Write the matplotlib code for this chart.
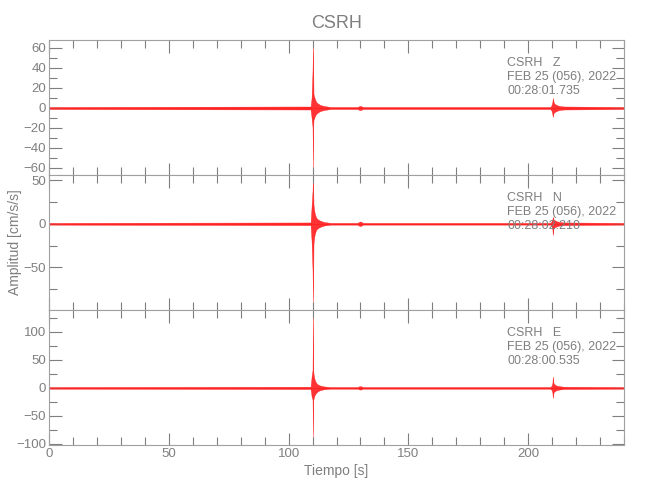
import matplotlib
matplotlib.use("Agg")
import matplotlib.pyplot as plt
from matplotlib.ticker import MultipleLocator

# envelope keypoints (seconds)
t_keys = [0, 109.2, 109.6, 110.0, 110.2, 110.3, 110.4, 110.7, 111.0, 111.5, 112.2,
          113.2, 114.8, 117.5, 128.8, 129.6, 130.2, 131, 209.3, 209.8, 210.1, 210.3,
          210.6, 211.1, 211.8, 213, 215, 240]

z_hi = [1, 1.5, 10, 38, 65, 38, 14, 11, 9, 6, 4.5, 3, 2, 1, 1, 2, 2, 1, 1, 3,
        6, 10, 6, 4, 3, 2, 1.5, 1]
z_lo = [-1, -1.5, -10, -19, -62, -19, -12, -10, -8, -6, -4.5, -3, -2, -1, -1, -2,
        -2, -1, -1, -3, -6, -9, -5, -4, -3, -2, -1.5, -1]

n_hi = [1, 1.5, 20, 38, 56, 38, 22, 15, 11, 7, 5, 3.5, 2, 1, 1, 2.5, 2.5, 1, 1, 3,
        5, 8, 5, 4, 3, 2, 1.5, 1]
n_lo = [-1, -1.5, -20, -54, -93, -54, -23, -15, -11, -7, -5, -3.5, -2, -1, -1, -2.5,
        -2.5, -1, -1, -3, -6, -13, -5, -4, -3, -2, -1.5, -1]

e_hi = [1.5, 2, 20, 32, 145, 32, 25, 18, 13, 9, 6, 4, 2.5, 1.5, 1.5, 3, 3, 1.5, 1.5,
        4, 8, 20, 8, 6, 4, 3, 2, 1.5]
e_lo = [-1.5, -2, -15, -21, -93, -21, -20, -15, -12, -9, -6, -4, -2.5, -1.5, -1.5,
        -3, -3, -1.5, -1.5, -4, -8, -18, -8, -6, -4, -3, -2, -1.5]

components = ["Z", "N", "E"]
start_times = ["00:28:01.735", "00:28:02.210", "00:28:00.535"]
ylims = [(-67, 68), (-99, 56), (-102, 139)]
ymajor = [20, 50, 50]
yminor = [10, 25, 25]

GRAY = "#7f7f7f"
plt.rcParams["font.family"] = ["Liberation Sans", "DejaVu Sans"]

fig, axes = plt.subplots(3, 1, figsize=(6.5, 5), dpi=100, sharex=True)
fig.subplots_adjust(left=0.0754, right=0.96, top=0.92, bottom=0.11, hspace=0)

traces = [(z_hi, z_lo), (n_hi, n_lo), (e_hi, e_lo)]
for i, ax in enumerate(axes):
    hi, lo = traces[i]
    ax.fill_between(t_keys, lo, hi, color="#ff0000", alpha=0.8, lw=0.3)
    ax.axhline(0, color="#ff2020", lw=0.6)
    ax.set_xlim(0, 240)
    ax.set_ylim(*ylims[i])
    ax.xaxis.set_major_locator(MultipleLocator(50))
    ax.xaxis.set_minor_locator(MultipleLocator(10))
    ax.yaxis.set_major_locator(MultipleLocator(ymajor[i]))
    ax.yaxis.set_minor_locator(MultipleLocator(yminor[i]))
    ax.tick_params(which="both", direction="in", top=True, right=True,
                   color=GRAY, labelcolor=GRAY, labelsize=9.5, width=0.8, pad=2)
    ax.tick_params(which="major", length=9)
    ax.tick_params(which="minor", length=6)
    for sp in ax.spines.values():
        sp.set_color("#a0a0a0")
        sp.set_linewidth(0.8)
    ax.text(0.797, 0.726, f"CSRH   {components[i]}\nFEB 25 (056), 2022\n{start_times[i]}",
            transform=ax.transAxes, ha="left", va="center", color=GRAY,
            fontsize=9, linespacing=1.2)

axes[0].set_title("CSRH", color=GRAY, fontsize=13, pad=9)
axes[2].set_xlabel("Tiempo [s]", color=GRAY, fontsize=10, labelpad=3)
axes[1].set_ylabel("Amplitud [cm/s/s]", color=GRAY, fontsize=10, labelpad=1)

fig.savefig("out.png", dpi=100)
